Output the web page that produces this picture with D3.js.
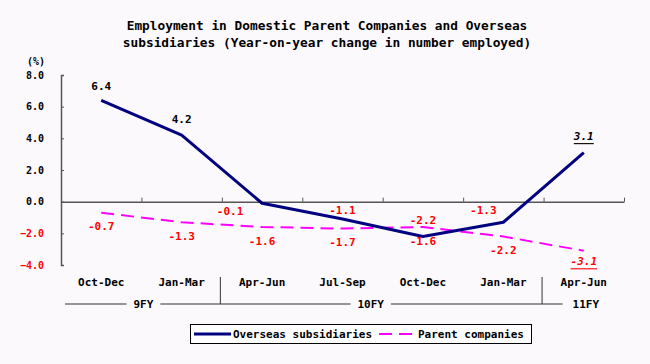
<!DOCTYPE html>
<html><head><meta charset="utf-8">
<script src="https://cdn.jsdelivr.net/npm/d3@7"></script>
<style>
html,body{margin:0;padding:0;background:#FCF9FC;}
svg{display:block;}
text{font-family:"DejaVu Sans Mono","Liberation Mono",monospace;font-weight:bold;}
</style></head>
<body><svg id="chart" width="650" height="364"></svg>
<script>
// ---- data ----
const categories = ["Oct-Dec","Jan-Mar","Apr-Jun","Jul-Sep","Oct-Dec","Jan-Mar","Apr-Jun"];
const overseas = [6.4, 4.2, -0.1, -1.1, -2.2, -1.3, 3.1];
const parent = [-0.7, -1.3, -1.6, -1.7, -1.6, -2.2, -3.1];
const yTicks = [-4, -2, 0, 2, 4, 6, 8];
const fyLabels = ["9FY", "10FY", "11FY"];
const fyStart = [0, 2, 6];
const fyEnd = [2, 6, 7];
const seriesNames = ["Overseas subsidiaries", "Parent companies"];
const titleLines = ["Employment in Domestic Parent Companies and Overseas",
                    "subsidiaries (Year-on-year change in number employed)"];
// label nudges (layout only)
const overseasLabelDx = [0, 0, -32, 0, 0, -20, 0];
const overseasLabelDy = [-14, -16, 8, -9, -16, -12, -16];

// ---- layout ----
const svg = d3.select("#chart");
const pLeft = 61, pRight = 624, pTop = 75, pBottom = 265;
const idx = d3.range(categories.length);
const x = d3.scaleBand().domain(idx).range([pLeft, pRight]).padding(0);
const xLin = d3.scaleLinear().domain([0, categories.length]).range([pLeft, pRight]);
const y = d3.scaleLinear().domain([-4, 8]).range([pBottom, pTop]);
const cx = i => x(i) + x.bandwidth() / 2;
const red = "#FF0000";

// title
svg.append("g").selectAll("text").data(titleLines).join("text")
  .attr("x", 327).attr("y", (d, i) => 30 + i * 17)
  .attr("text-anchor", "middle").attr("font-size", 12.8).attr("fill", "#000")
  .text(d => d);

// (%) unit
svg.append("text").attr("x", 36).attr("y", 65).attr("text-anchor", "middle")
  .attr("font-size", 10).text("(%)");

// y axis
const yAxis = svg.append("g").attr("transform", `translate(${pLeft},0)`)
  .call(d3.axisLeft(y).tickValues(yTicks).tickSize(-3).tickPadding(17)
    .tickFormat(d3.format(".1f")));
yAxis.select(".domain").attr("stroke", "#555").attr("stroke-width", 1.5);
yAxis.selectAll(".tick line").attr("stroke", "#555");
yAxis.selectAll(".tick text").attr("font-size", 10)
  .attr("font-family", "DejaVu Sans Mono, monospace").attr("font-weight", "bold")
  .attr("fill", d => d < 0 ? red : "#000");

// zero axis with boundary ticks
const xAxis = svg.append("g").attr("transform", `translate(0,${y(0)})`)
  .call(d3.axisTop(xLin).tickValues(d3.range(1, categories.length + 1)).tickSize(4)
    .tickSizeOuter(0).tickFormat(""));
xAxis.select(".domain").attr("stroke", "#555").attr("stroke-width", 1.5);
xAxis.selectAll(".tick line").attr("stroke", "#555");

// category labels
svg.append("g").selectAll("text").data(categories).join("text")
  .attr("x", (d, i) => cx(i)).attr("y", 286).attr("text-anchor", "middle")
  .attr("font-size", 11).text(d => d);

// fiscal year grouping
const fyY = 304;
svg.append("line").attr("x1", pLeft + 4).attr("x2", xLin(6) + 19)
  .attr("y1", fyY).attr("y2", fyY).attr("stroke", "#333").attr("stroke-width", 1);
fyStart.slice(1).forEach(s => {
  svg.append("line").attr("x1", xLin(s) - 1.5).attr("x2", xLin(s) - 1.5)
    .attr("y1", 277).attr("y2", fyY).attr("stroke", "#333").attr("stroke-width", 1);
});
const fyDx = [2, -12, 2];
fyLabels.forEach((lab, i) => {
  const c = (xLin(fyStart[i]) + xLin(fyEnd[i])) / 2 + fyDx[i];
  const w = lab.length * 6.6 + 14;
  svg.append("rect").attr("x", c - w / 2).attr("y", fyY - 6).attr("width", w)
    .attr("height", 12).attr("fill", "#FCF9FC");
  svg.append("text").attr("x", c).attr("y", fyY + 4).attr("text-anchor", "middle")
    .attr("font-size", 11).text(lab);
});

// lines
const line = d3.line().x((d, i) => cx(i)).y(d => y(d));
svg.append("path").datum(parent).attr("d", line).attr("fill", "none")
  .attr("stroke", "#FF00FF").attr("stroke-width", 2).attr("stroke-dasharray", "13,7");
svg.append("path").datum(overseas).attr("d", line).attr("fill", "none")
  .attr("stroke", "#000080").attr("stroke-width", 3).attr("stroke-linejoin", "round");

// data labels
const last = categories.length - 1;
function styleLabel(sel, colorFn) {
  sel.attr("text-anchor", "middle").attr("font-size", 11)
    .attr("dominant-baseline", "central")
    .attr("fill", colorFn)
    .attr("font-style", (d, i) => i === last ? "italic" : "normal")
    .attr("text-decoration", (d, i) => i === last ? "underline" : "none")
    .text(d => d.toFixed(1));
}
svg.append("g").selectAll("text").data(overseas).join("text")
  .attr("x", (d, i) => cx(i) + overseasLabelDx[i])
  .attr("y", (d, i) => y(d) + overseasLabelDy[i])
  .call(styleLabel, d => d < 0 ? red : "#000");
svg.append("g").selectAll("text").data(parent).join("text")
  .attr("x", (d, i) => cx(i))
  .attr("y", (d, i) => y(d) + (i === last ? 11 : 14))
  .call(styleLabel, red);

// legend
const lg = svg.append("g");
lg.append("rect").attr("x", 190.5).attr("y", 324.5).attr("width", 341).attr("height", 19)
  .attr("fill", "#fff").attr("stroke", "#000").attr("stroke-width", 1);
lg.append("line").attr("x1", 194).attr("x2", 231).attr("y1", 334).attr("y2", 334)
  .attr("stroke", "#000080").attr("stroke-width", 3);
lg.append("text").attr("x", 233).attr("y", 338).attr("font-size", 11).text(seriesNames[0]);
lg.append("line").attr("x1", 379).attr("x2", 413).attr("y1", 334).attr("y2", 334)
  .attr("stroke", "#FF00FF").attr("stroke-width", 2).attr("stroke-dasharray", "13,7");
lg.append("text").attr("x", 418).attr("y", 338).attr("font-size", 11).text(seriesNames[1]);
</script></body></html>
